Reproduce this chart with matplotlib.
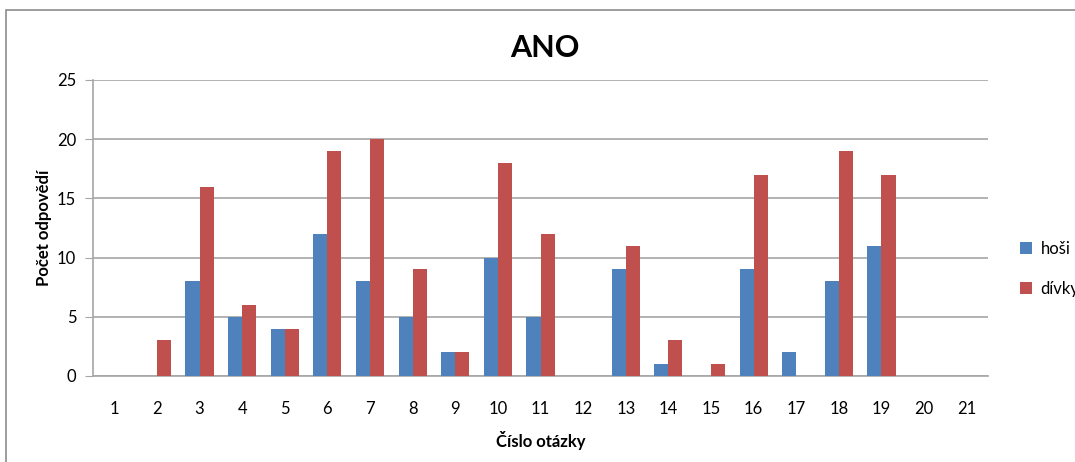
import matplotlib
matplotlib.use("Agg")
import matplotlib.pyplot as plt
import numpy as np
from matplotlib.patches import Rectangle

categories = [str(i) for i in range(1, 22)]
hosi = [0, 0, 8, 5, 4, 12, 8, 5, 2, 10, 5, 0, 9, 1, 0, 9, 2, 8, 11, 0, 0]
divky = [0, 3, 16, 6, 4, 19, 20, 9, 2, 18, 12, 0, 11, 3, 1, 17, 0, 19, 17, 0, 0]
yticks = [0, 5, 10, 15, 20, 25]

plt.rcParams['font.family'] = ['Lato', 'DejaVu Sans']

W, H = 1075, 462
fig = plt.figure(figsize=(W / 100, H / 100), dpi=100)
ax = fig.add_axes([93 / W, 1 - 376 / H, (988 - 93) / W, (376 - 80) / H])

x = np.arange(len(categories))
w = 0.33
ax.bar(x - w / 2, hosi, width=w, color='#4F81BD', label='hoši', zorder=3)
ax.bar(x + w / 2, divky, width=w, color='#C0504D', label='dívky', zorder=3)

ax.set_xlim(-0.5, len(categories) - 0.5)
ax.set_ylim(0, 25)
ax.set_yticks(yticks)
ax.set_xticks(x)
ax.set_xticklabels(categories)
ax.grid(axis='y', color='#A6A6A6', linewidth=1.2, zorder=0)
for s in ['top', 'right']:
    ax.spines[s].set_visible(False)
for s in ['left', 'bottom']:
    ax.spines[s].set_color('#A6A6A6')
    ax.spines[s].set_linewidth(1.2)
ax.tick_params(axis='y', direction='out', length=6, color='#A6A6A6', labelsize=12, pad=6)
ax.tick_params(axis='x', length=0, labelsize=12, pad=18)

ax.set_xlabel('Číslo otázky', fontsize=12, fontweight='bold', labelpad=10)
ax.set_ylabel('Počet odpovědí', fontsize=12, fontweight='bold', labelpad=4)
fig.text(545 / W, 1 - 48 / H, 'ANO', ha='center', va='center', fontsize=22, fontweight='bold')

leg = ax.legend(loc='center left', bbox_to_anchor=(1013 / W, 1 - 269 / H),
                bbox_transform=fig.transFigure, frameon=False, fontsize=12,
                handlelength=0.75, handleheight=0.75, handletextpad=0.5,
                labelspacing=1.45, borderaxespad=0)

fig.patches.append(Rectangle((6 / W, -0.1), 1.2, 1 - 10 / H + 0.1,
                             transform=fig.transFigure, fill=False,
                             edgecolor='#8C8C8C', linewidth=1.2))

fig.savefig('out.png', dpi=100)
